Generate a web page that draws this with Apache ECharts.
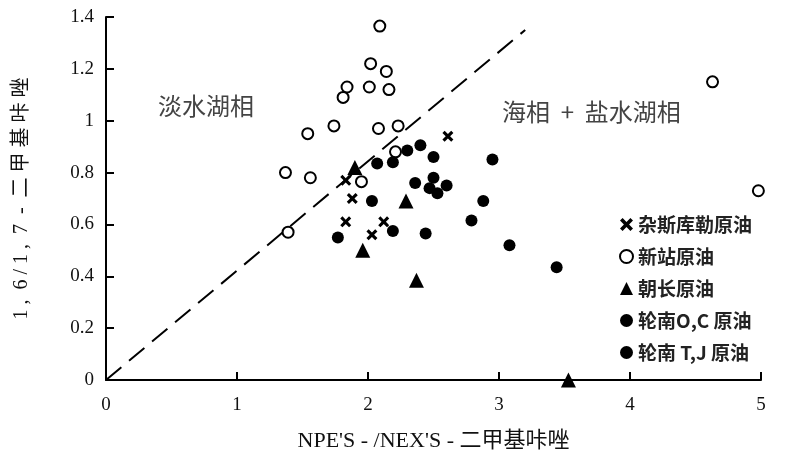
<!DOCTYPE html>
<html>
<head>
<meta charset="utf-8">
<script src="https://cdn.jsdelivr.net/npm/echarts@6/dist/echarts.min.js"></script>
<style>
html, body { margin: 0; padding: 0; background: #fff; }
#chart { width: 800px; height: 459px; }
</style>
</head>
<body>
<div id="chart"></div>
<script>
// values: [NPE'S/NEX'S, 1,6/1,7]
const xTicks = [0, 1, 2, 3, 4, 5]
const yTicks = [0, 0.2, 0.4, 0.6, 0.8, 1, 1.2, 1.4]
const seriesNames = ['杂斯库勒原油', '新站原油', '朝长原油', '轮南O,C 原油', '轮南 T,J 原油']
const zasi = [[2.61, 0.94], [1.83, 0.77], [1.88, 0.70], [1.83, 0.61], [2.12, 0.61], [2.03, 0.56]]
const xinzhan = [[2.09, 1.365], [2.02, 1.22], [2.14, 1.19], [1.84, 1.13], [1.81, 1.09], [2.01, 1.13],
    [2.16, 1.12], [1.74, 0.98], [1.54, 0.95], [2.08, 0.97], [2.23, 0.98], [1.37, 0.80], [1.56, 0.78],
    [1.95, 0.765], [1.39, 0.57], [2.21, 0.88], [4.63, 1.15], [4.98, 0.73]]
const chaochang = [[1.90, 0.82], [2.29, 0.69], [1.96, 0.50], [2.37, 0.385], [3.53, 0]]
const lunnanOC = [[2.07, 0.835], [2.19, 0.84], [2.30, 0.885], [2.40, 0.905], [2.50, 0.86], [2.36, 0.76],
    [2.03, 0.69], [2.19, 0.575], [1.77, 0.55], [2.44, 0.565]]
const lunnanTJ = [[2.95, 0.85], [2.50, 0.78], [2.47, 0.74], [2.53, 0.72], [2.60, 0.75], [2.88, 0.69],
    [2.79, 0.615], [3.08, 0.52], [3.44, 0.435]]
// dividing line
const divider = [[0, 0], [3.2, 1.35]]

const serif = "'Liberation Serif', 'Noto Sans CJK SC', serif"
const crossPath = 'path://M2,0L5,3L8,0L10,2L7,5L10,8L8,10L5,7L2,10L0,8L3,5L0,2Z'

const myChart = echarts.init(document.getElementById('chart'))
myChart.setOption({
    backgroundColor: '#fff',
    animation: false,
    grid: { left: 106, right: 39, top: 17, bottom: 79 },
    xAxis: {
        type: 'value', min: 0, max: 5, interval: 1,
        name: "NPE'S - /NEX'S - 二甲基咔唑",
        nameLocation: 'middle', nameGap: 50,
        nameTextStyle: { fontFamily: serif, fontSize: 22, color: '#111' },
        axisLine: { lineStyle: { color: '#000', width: 2 } },
        axisTick: { inside: true, length: 8, lineStyle: { color: '#000', width: 2 } },
        axisLabel: { fontFamily: serif, fontSize: 19, color: '#111', margin: 16 },
        splitLine: { show: false }
    },
    yAxis: {
        type: 'value', min: 0, max: 1.4, interval: 0.2,
        name: '1 ,  6 / 1 ,  7  -  二 甲 基 咔 唑',
        nameLocation: 'middle', nameGap: 74, nameRotate: 90,
        nameTextStyle: { fontFamily: serif, fontSize: 20, color: '#111' },
        axisLine: { lineStyle: { color: '#000', width: 2 } },
        axisTick: { inside: true, length: 8, lineStyle: { color: '#000', width: 2 } },
        axisLabel: { fontFamily: serif, fontSize: 19, color: '#111', margin: 12 },
        splitLine: { show: false }
    },
    legend: {
        orient: 'vertical', left: 614, top: 210, itemGap: 13,
        itemWidth: 13, itemHeight: 13,
        textStyle: { fontFamily: "'Noto Sans CJK SC'", fontSize: 19, fontWeight: 'bold', color: '#222' },
        data: seriesNames
    },
    graphic: [
        { type: 'text', left: 158, top: 94, style: { text: '淡水湖相', font: "24px 'Noto Sans CJK SC'", fill: '#444' } },
        { type: 'text', left: 502, top: 100, style: { text: '海相  +  盐水湖相', font: "24px 'Noto Sans CJK SC'", fill: '#444' } }
    ],
    series: [
        {
            type: 'line', data: divider, symbol: 'none', silent: true, z: 1,
            lineStyle: { color: '#000', width: 2, type: [20, 10] }
        },
        {
            name: seriesNames[0], type: 'scatter', data: zasi, symbol: crossPath, symbolSize: 11,
            itemStyle: { color: '#000', opacity: 1 }, clip: false
        },
        {
            name: seriesNames[1], type: 'scatter', data: xinzhan, symbol: 'circle', symbolSize: 11,
            itemStyle: { color: '#fff', borderColor: '#000', borderWidth: 2, opacity: 1 }, clip: false
        },
        {
            name: seriesNames[2], type: 'scatter', data: chaochang, symbol: 'triangle', symbolSize: 15,
            itemStyle: { color: '#000', opacity: 1 }, clip: false
        },
        {
            name: seriesNames[3], type: 'scatter', data: lunnanOC, symbol: 'circle', symbolSize: 12,
            itemStyle: { color: '#000', opacity: 1 }, clip: false
        },
        {
            name: seriesNames[4], type: 'scatter', data: lunnanTJ, symbol: 'circle', symbolSize: 12,
            itemStyle: { color: '#000', opacity: 1 }, clip: false
        }
    ]
})
</script>
</body>
</html>
